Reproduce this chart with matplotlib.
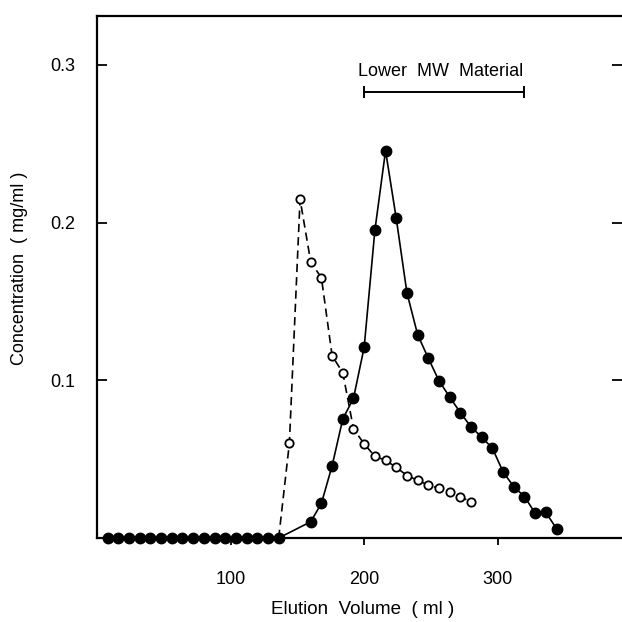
import matplotlib
matplotlib.use("Agg")
import matplotlib.pyplot as plt

# Data (elution volume in ml, concentration in mg/ml)
filled_x = [8, 16, 24, 32, 40, 48, 56, 64, 72, 80, 88, 96, 104, 112, 120, 128, 136,
            160, 168, 176, 184, 192, 200, 208, 216, 224, 232, 240, 248, 256, 264,
            272, 280, 288, 296, 304, 312, 320, 328, 336, 344]
filled_y = [0.0] * 17 + [0.0103, 0.022, 0.0458, 0.0755, 0.0886, 0.121, 0.195, 0.2456,
                         0.2027, 0.1555, 0.129, 0.114, 0.0997, 0.0894, 0.0795, 0.0704,
                         0.064, 0.0569, 0.0419, 0.0325, 0.0263, 0.0157, 0.0162, 0.0059]

open_x = [136, 144, 152, 160, 168, 176, 184, 192, 200, 208, 216, 224, 232, 240, 248,
          256, 264, 272, 280]
open_y = [0.0, 0.060, 0.2148, 0.175, 0.165, 0.1156, 0.1048, 0.0692, 0.0597, 0.0518,
          0.0493, 0.0448, 0.0396, 0.0366, 0.0336, 0.0314, 0.0294, 0.0262, 0.0228]

x_ticks = [100, 200, 300]
y_ticks = [0.1, 0.2, 0.3]
y_tick_labels = ["0.1", "0.2", "0.3"]
bar_range = [200, 320]
bar_label = "Lower  MW  Material"

plt.rcParams['font.family'] = ['Liberation Sans', 'DejaVu Sans']

fig = plt.figure(figsize=(6.22, 6.22), dpi=100)
ax = fig.add_axes([97 / 622, 84 / 622, 525 / 622, 522 / 622])

ax.plot(open_x, open_y, color='black', lw=1.2, ls=(0, (5, 3)), marker='o',
        markersize=6, markerfacecolor='white', markeredgecolor='black',
        markeredgewidth=1.3, markevery=list(range(1, len(open_x))), zorder=2)
ax.plot(filled_x, filled_y, color='black', lw=1.2, marker='o', markersize=7.5,
        markerfacecolor='black', markeredgecolor='black', zorder=3, clip_on=False)

ax.set_xlim(0, 393)
ax.set_ylim(0, 0.331)

ax.set_xticks(x_ticks)
ax.set_xticklabels([str(v) for v in x_ticks], fontsize=13)
ax.set_yticks(y_ticks)
ax.set_yticklabels(y_tick_labels, fontsize=13)
ax.tick_params(axis='x', direction='out', length=5, width=1.3, pad=19)
ax.tick_params(axis='y', direction='in', length=7, width=1.3, pad=16,
               right=True)

for s in ['left', 'bottom', 'top']:
    ax.spines[s].set_linewidth(1.6)
ax.spines['right'].set_visible(False)

ax.set_xlabel("Elution  Volume  ( ml )", fontsize=13.5)
ax.xaxis.set_label_coords((363 - 97) / 525, -(610 - 538) / 522)
ax.set_ylabel("Concentration  ( mg/ml )", fontsize=13)
ax.yaxis.set_label_coords(-(97 - 20) / 525, (538 - 268) / 522)
ax.xaxis.label.set_verticalalignment('center')
ax.yaxis.label.set_verticalalignment('center')

# annotation bar
ax.errorbar([(bar_range[0] + bar_range[1]) / 2], [0.283],
            xerr=[[(bar_range[1] - bar_range[0]) / 2]], color='black', lw=1.4,
            capsize=4, capthick=1.4)
ax.text((bar_range[0] + bar_range[1]) / 2 - 3, 0.296, bar_label, fontsize=13,
        ha='center', va='center')

fig.savefig("out.png", dpi=100)
